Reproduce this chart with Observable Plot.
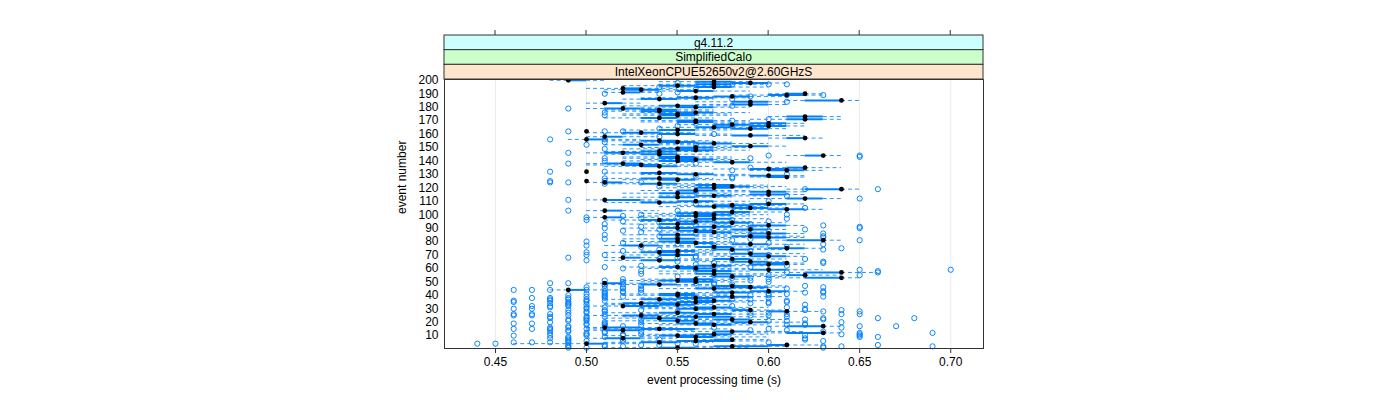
<!DOCTYPE html>
<html><head><meta charset="utf-8">
<script src="https://cdn.jsdelivr.net/npm/d3@7"></script>
<script src="https://cdn.jsdelivr.net/npm/@observablehq/plot@0.6"></script>
<style>body{margin:0;background:#fff}svg{display:block}</style>
</head><body><div id="chart"></div>
<script>
// Strip labels (top to bottom) and their lattice colours
const stripLabels = ["g4.11.2", "SimplifiedCalo", "IntelXeonCPUE52650v2@2.60GHzS"];
const stripColors = ["#ccffff", "#ccffcc", "#ffe5cc"];
const xTicks = [0.45, 0.50, 0.55, 0.60, 0.65, 0.70];
const yTicks = [10,20,30,40,50,60,70,80,90,100,110,120,130,140,150,160,170,180,190,200];
const xTitle = "event processing time (s)";
const yTitle = "event number";

// Per-event statistics for events 1..200, in hundredths of a second
const medianCs = [55,58,61,50,54,56,58,52,56,55, 57,63,58,52,54,51,63,57,56,59,
 55,58,54,56,53,57,55,61,59,56, 57,52,55,53,56,57,54,56,58,55,
 55,58,60,49,57,59,58,54,51,56, 55,56,64,58,62,57,64,57,60,56,
 55,57,60,61,59,54,58,52,60,55, 59,54,55,58,61,57,53,59,56,55,
 63,55,60,59,55,60,57,56,59,55, 57,60,55,58,56,54,57,51,56,57,
 56,58,51,61,59,57,58,60,54,56, 51,62,55,57,60,55,60,56,64,57,
 58,57,54,51,50,55,54,61,60,56, 54,50,61,60,62,54,53,52,58,55,
 56,55,55,63,54,52,54,56,55,56, 59,53,57,55,54,50,62,51,59,55,
 53,50,55,59,57,60,58,60,56,56, 62,54,62,55,55,56,54,54,52,56,
 55,59,51,59,64,54,56,58,61,62, 52,56,53,52,57,55,57,59,57,49];
const q1Cs = [54,57,60,50,53,55,57,51,55,54, 56,61,57,51,53,51,61,56,55,58,
 54,57,53,55,52,56,54,60,58,55, 56,52,54,52,55,56,53,55,57,54,
 54,57,59,49,56,58,57,53,51,55, 54,55,62,57,61,56,62,56,59,55,
 54,56,59,60,58,53,57,52,59,54, 58,53,54,57,60,56,52,58,55,54,
 61,54,59,58,54,59,56,55,58,54, 56,59,54,57,55,53,56,51,55,56,
 55,57,51,60,58,56,57,59,53,55, 51,61,54,56,59,54,59,55,62,56,
 57,56,53,51,50,54,53,60,59,55, 53,50,60,59,61,53,52,51,57,54,
 55,54,54,62,53,51,53,55,54,55, 58,52,56,54,53,50,61,51,58,54,
 52,50,54,58,56,59,57,59,55,55, 61,53,61,54,54,55,53,53,51,55,
 54,58,51,58,62,53,55,57,60,61, 52,55,52,52,56,54,56,58,56,49];
const q3Cs = [56,60,61,51,55,58,58,53,57,56, 58,63,59,53,56,53,63,58,57,60,
 56,59,55,58,54,58,56,61,59,57, 58,54,56,55,57,58,55,57,59,56,
 56,59,61,50,58,60,59,55,52,57, 56,57,64,59,62,58,64,58,61,57,
 56,58,61,61,60,55,59,53,61,56, 60,55,56,59,62,58,54,60,57,56,
 63,56,61,60,56,61,58,57,60,56, 58,61,56,59,57,55,58,52,57,58,
 57,59,52,62,60,58,59,61,55,57, 53,63,56,58,61,56,61,57,64,58,
 59,58,55,52,50,56,55,61,61,57, 55,50,62,61,62,55,54,53,59,56,
 57,56,56,63,55,53,55,57,56,57, 60,54,58,56,55,51,62,52,60,56,
 54,50,56,60,58,61,59,61,57,57, 63,55,63,56,56,57,55,55,53,57,
 56,60,52,60,64,55,57,59,62,62, 53,57,54,53,58,56,58,60,58,50];
const whiskerLoCs = [51,56,58,46,51,53,56,50,53,51, 53,59,55,50,50,50,60,54,53,56,
 51,55,51,52,50,53,51,58,56,53, 53,50,51,51,53,54,51,53,55,52,
 52,55,57,48,54,56,55,51,50,53, 52,53,60,56,58,54,60,54,57,53,
 52,54,57,59,56,51,55,51,57,52, 56,51,53,55,59,54,51,56,53,52,
 60,52,57,56,52,57,54,53,56,52, 54,57,52,55,53,51,54,50,53,54,
 53,55,50,58,57,54,55,57,51,53, 50,59,52,54,57,52,57,53,61,54,
 55,54,51,50,50,52,51,59,57,53, 51,50,59,57,60,51,50,50,55,52,
 53,52,52,61,51,50,51,53,52,53, 56,51,54,52,51,49,60,50,56,52,
 50,50,52,56,54,57,55,57,53,53, 59,51,60,52,52,53,51,51,50,53,
 52,56,50,56,61,52,53,55,58,60, 51,53,51,50,54,52,54,56,54,48];
const whiskerHiCs = [59,61,63,53,57,60,60,55,60,58, 60,64,62,56,58,55,64,60,59,62,
 58,61,57,60,56,60,58,63,61,59, 60,56,58,57,59,60,57,59,61,58,
 58,61,62,52,60,61,61,57,54,59, 58,59,65,61,64,60,66,59,63,59,
 58,60,62,62,61,57,61,54,62,58, 62,57,57,61,63,60,56,62,59,58,
 64,58,62,62,58,62,60,59,61,58, 60,62,58,61,59,57,60,54,59,60,
 59,61,54,63,61,60,61,62,57,59, 54,64,58,60,62,58,62,59,65,60,
 61,60,57,53,50,58,57,62,62,59, 57,50,63,62,64,57,56,55,61,58,
 59,58,58,64,57,55,57,59,58,59, 61,56,60,58,57,53,63,54,62,58,
 56,50,58,61,60,62,61,62,59,59, 64,57,64,58,58,59,57,57,54,59,
 58,61,53,61,65,57,59,61,63,63, 54,59,56,55,60,58,60,61,59,51];
// Outliers: [event, time in hundredths of a second]
const outliers = [
 [1,49],[1,50],[1,63],[2,49],[2,51],[2,52],[2,63],[2,64],[2,69],[3,49],[3,51],[3,53],[3,54],[3,66],
 [4,44],[4,45],[4,55],[4,56],[5,46],[5,47],[5,48],[5,49],[5,60],[6,49],[6,50],[6,52],[6,63],
 [7,49],[7,52],[7,54],[7,62],[8,48],[8,49],[8,62],[9,49],[9,51],[9,65],[9,66],
 [10,46],[10,48],[10,50],[10,52],[10,62],[10,65],[11,50],[11,52],[11,53],[11,64],[11,65],
 [12,48],[12,50],[12,51],[12,65],[12,69],[13,49],[13,51],[13,53],[13,63],[14,48],[14,49],[14,59],[14,61],
 [15,46],[15,47],[15,48],[15,50],[15,60],[16,48],[16,49],[16,57],[16,64],[17,49],[17,51],[17,52],[17,65],[17,67],
 [18,50],[18,51],[18,53],[18,61],[18,62],[19,46],[19,47],[19,50],[19,51],[19,62],[20,48],[20,51],[20,53],[20,64],
 [21,49],[21,50],[21,60],[21,61],[22,49],[22,50],[22,53],[22,62],[22,63],[23,48],[23,50],[23,63],[23,66],[23,68],
 [24,48],[24,50],[24,51],[24,61],[25,46],[25,47],[25,49],[25,59],[25,60],[26,46],[26,47],[26,48],[26,51],[26,61],[26,64],[26,65],
 [27,49],[27,50],[27,59],[27,60],[28,50],[28,51],[28,55],[28,63],[28,65],[29,49],[29,51],[29,53],[29,62],[29,64],
 [30,46],[30,47],[30,50],[30,62],[31,48],[31,50],[31,51],[31,61],[32,47],[32,48],[32,49],[32,58],
 [33,49],[33,50],[33,62],[34,48],[34,49],[34,59],[34,60],[35,46],[35,49],[35,50],[35,60],[35,61],
 [36,46],[36,48],[36,50],[36,51],[36,61],[37,48],[37,49],[37,50],[37,58],[37,59],[38,47],[38,48],[38,49],[38,51],[38,60],
 [39,50],[39,51],[39,52],[39,63],[40,49],[40,51],[40,59],[40,60],[41,50],[41,51],[41,60],[41,61],
 [42,51],[42,52],[42,53],[42,62],[42,63],[43,51],[43,52],[43,63],[44,46],[44,47],[44,48],[44,50],[44,53],
 [45,51],[45,52],[45,53],[45,61],[46,50],[46,52],[46,63],[47,51],[47,53],[47,62],[48,51],[48,52],[48,57],[48,58],
 [49,48],[49,49],[49,56],[49,57],[50,52],[50,60],
 [51,51],[51,59],[52,52],[52,60],[53,58],[53,59],[54,55],[55,57],[55,60],[55,65],[56,53],[57,61],[57,66],
 [58,53],[58,66],[59,56],[59,65],[59,70],[60,52],[61,51],[61,59],[62,53],[62,61],[63,56],[64,57],[64,63],
 [65,55],[65,63],[66,50],[66,58],[67,54],[67,62],[68,49],[68,55],[68,56],[69,56],[70,50],[70,51],[70,60],
 [71,55],[72,50],[72,58],[73,52],[73,59],[74,54],[74,63],[75,57],[75,64],[76,53],[76,61],[77,50],[77,57],
 [78,55],[78,63],[79,52],[79,60],[80,50],[81,58],[81,65],[82,51],[82,59],[83,55],[83,63],[84,54],[84,63],
 [85,51],[85,59],[86,56],[86,63],[87,53],[88,52],[88,60],[89,54],[89,62],[90,51],[90,59],[90,65],
 [91,53],[91,65],[92,56],[92,63],[93,51],[93,59],[94,54],[95,52],[95,60],[96,50],[96,58],[97,53],[97,61],
 [98,50],[98,55],[99,52],[100,53],[100,61],
 [103,49],[103,55],[105,62],[108,56],[110,60],[111,49],[112,65],[114,61],[117,56],[119,62],[119,66],
 [121,54],[123,51],[124,48],[124,49],[124,53],[125,48],[125,51],[127,51],[127,58],[128,58],[129,56],[130,61],
 [132,48],[132,51],[133,58],[135,59],[138,49],[138,56],[140,51],[142,51],[142,59],[143,65],[144,60],[144,65],
 [146,49],[146,54],[149,51],[152,50],[152,56],[154,51],[156,48],[156,51],[158,54],[160,57],
 [162,49],[162,51],[162,52],[164,54],[166,55],[166,58],[168,56],[170,58],[171,60],[174,51],[176,51],[179,49],
 [181,58],[184,61],[186,58],[188,59],[189,61],[189,63],[190,51],[190,54],[191,55],[193,56],[195,54],
 [197,58],[197,60],[197,61],[198,55]
];

const rows = medianCs.map((m, i) => ({
  event: i + 1,
  med: m / 100,
  q1: q1Cs[i] / 100,
  q3: q3Cs[i] / 100,
  lo: whiskerLoCs[i] / 100,
  hi: whiskerHiCs[i] / 100
}));
const outRows = outliers.map(([e, t]) => ({event: e, t: t / 100}));

const blue = "#0080ff";
const font = "'Liberation Sans', Arial, Helvetica, sans-serif";

const plot = Plot.plot({
  width: 1400,
  height: 400,
  marginLeft: 444,
  marginRight: 417,
  marginTop: 79,
  marginBottom: 52,
  style: {fontFamily: font, fontSize: "12px", color: "black", background: "white"},
  x: {domain: [0.422, 0.718]},
  y: {domain: [0.4, 200.6]},
  marks: [
    Plot.gridX(xTicks, {stroke: "#ebebeb", strokeOpacity: 1}),
    Plot.ruleY(rows, {y: "event", x1: "lo", x2: "q1", stroke: blue, strokeWidth: 1, strokeOpacity: 0.85, strokeDasharray: "4,3"}),
    Plot.ruleY(rows, {y: "event", x1: "q3", x2: "hi", stroke: blue, strokeWidth: 1, strokeOpacity: 0.85, strokeDasharray: "4,3"}),
    Plot.ruleY(rows, {y: "event", x1: "q1", x2: "q3", stroke: blue, strokeWidth: 2}),
    Plot.dot(outRows, {x: "t", y: "event", r: 2.6, stroke: blue, strokeWidth: 0.95, fill: "none"}),
    Plot.dot(rows, {x: "med", y: "event", r: 2.4, fill: "black", stroke: "none"}),
    Plot.frame({stroke: "#333"}),
    Plot.axisX({ticks: xTicks, tickSize: 5, tickPadding: 4, tickFormat: d3.format(".2f"), label: null, stroke: "#333"}),
    Plot.axisY({ticks: yTicks, tickSize: 0, tickPadding: 6, label: null}),
    Plot.text([xTitle], {text: d => d, frameAnchor: "bottom", dy: 35}),
    Plot.text([yTitle], {text: d => d, frameAnchor: "left", dx: -42, rotate: -90})
  ]
});

document.getElementById("chart").appendChild(plot);

// Strips and top ticks, positioned from the x scale
const sx = plot.scale("x");
const xL = sx.apply(sx.domain[0]), xR = sx.apply(sx.domain[1]);
const svg = d3.select(plot);
const stripTop = 35, stripH = 14.67;
const g = svg.append("g");
stripLabels.forEach((lab, i) => {
  const y0 = stripTop + i * stripH;
  g.append("rect").attr("x", xL).attr("y", y0).attr("width", xR - xL).attr("height", stripH)
    .attr("fill", stripColors[i]).attr("stroke", "#333").attr("stroke-width", 1);
  g.append("text").attr("x", (xL + xR) / 2).attr("y", y0 + stripH / 2).attr("dy", "0.35em")
    .attr("text-anchor", "middle").attr("font-family", font).attr("font-size", 12).attr("fill", "black").text(lab);
});
xTicks.forEach(t => {
  const x = sx.apply(t);
  g.append("line").attr("x1", x).attr("x2", x).attr("y1", stripTop).attr("y2", stripTop - 5).attr("stroke", "#333");
});
</script>
</body></html>
